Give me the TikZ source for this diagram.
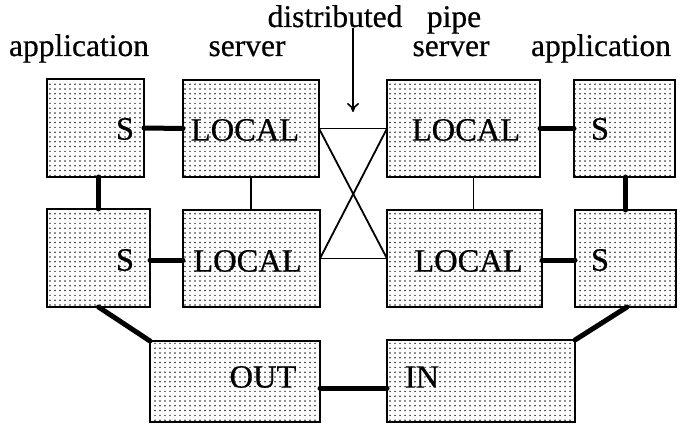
\documentclass[tikz,border=0pt]{standalone}
\usepackage{fontspec}
\setmainfont{Liberation Serif}[FakeBold=0.5]
\usetikzlibrary{patterns,arrows.meta}

% regular screen of small dots used to shade the boxes
\pgfdeclarepatternformonly{screendots}{\pgfqpoint{-1pt}{-1pt}}{\pgfqpoint{1pt}{1pt}}{\pgfqpoint{5pt}{4.8pt}}{%
  \pgfpathcircle{\pgfqpoint{0pt}{0pt}}{0.85pt}\pgfusepath{fill}}

\begin{document}
\begin{tikzpicture}[x=1pt,y=-1pt,
  box/.style={draw=black, line width=1.8pt, pattern=screendots, pattern color=black!85,
              inner sep=0pt, outer sep=0pt},
  txt/.style={font=\fontsize{32.5}{36}\selectfont, inner sep=0pt},
  lbl/.style={font=\fontsize{31.5}{36}\selectfont, inner sep=0pt, anchor=base},
  thick link/.style={line width=5pt, line cap=round},
  thin link/.style={line width=1.8pt}
]
\useasboundingbox (0,0) rectangle (683,425);

% boxes
\node[box, minimum width=97pt,  minimum height=98pt] (appTL) at (95.5,128) {};
\node[box, minimum width=136pt, minimum height=97pt] (locTL) at (251,128.5) {};
\node[box, minimum width=153pt, minimum height=97pt] (locTR) at (463.5,128.5) {};
\node[box, minimum width=101pt, minimum height=97pt] (appTR) at (624.5,128.5) {};
\node[box, minimum width=103pt, minimum height=98pt] (appBL) at (98.5,258) {};
\node[box, minimum width=137pt, minimum height=97pt] (locBL) at (251.5,258.5) {};
\node[box, minimum width=155pt, minimum height=97pt] (locBR) at (464.5,258.5) {};
\node[box, minimum width=101pt, minimum height=97pt] (appBR) at (625.5,258.5) {};
\node[box, minimum width=170pt, minimum height=81pt] (out) at (235,381.5) {};
\node[box, minimum width=188pt, minimum height=82pt] (in) at (481,381) {};

% box texts
\node[txt] (sTL) at (125,129) {S};
\node[txt] (lTL) at (245,130) {LOCAL};
\node[txt] (lTR) at (466,130) {LOCAL};
\node[txt] (sTR) at (600,129) {S};
\node[txt] (sBL) at (125,260) {S};
\node[txt] (lBL) at (247.5,261) {LOCAL};
\node[txt] (lBR) at (468.5,261) {LOCAL};
\node[txt] (sBR) at (600,260) {S};
\node[txt] (tOut) at (263,377) {OUT};
\node[txt] (tIn) at (422,377) {IN};

% headings
\node[lbl] (hApp1) at (79,56) {application};
\node[lbl] (hSrv1) at (247,56) {server};
\node[lbl] (hDist) at (335,27) {distributed};
\node[lbl] (hPipe) at (454,27) {pipe};
\node[lbl] (hSrv2) at (451,56) {server};
\node[lbl] (hApp2) at (601,56) {application};
\coordinate (arrTip) at (353,112);

% arrow pointing at the distributed pipe
\draw[line width=1.6pt, -{To[length=9pt,width=12pt]}] (hDist.south -| arrTip) -- (arrTip);

% heavy links between application and server parts
\draw[thick link] (appTL.east) -- (locTL.west);
\draw[thick link] (locTR.east) -- (appTR.west);
\draw[thick link] ([yshift=-2pt]appBL.east) -- ([yshift=-1.5pt]locBL.west);
\draw[thick link] ([yshift=-1.5pt]locBR.east) -- ([yshift=-1.5pt]appBR.west);
\draw[thick link] (appTL.south -| appBL.north) -- (appBL.north);
\draw[thick link] (appTR.south -| appBR.north) -- (appBR.north);
\draw[thick link] (appBL.south) -- (out.north west);
\draw[thick link] ([xshift=1.5pt]appBR.south) -- (in.north east);
\draw[thick link] ([yshift=-6.5pt]out.east) -- ([yshift=-7pt]in.west);

% thin links inside the servers and the distributed pipe
\draw[thin link] (locTL.south) -- (locTL.south |- locBL.north);
\draw[thin link] ([xshift=10pt]locTR.south) -- ([xshift=10pt]locTR.south |- locBR.north);
\draw[thin link] (locTL.east) -- (locTR.west);
\draw[thin link] (locBL.east) -- (locBR.west);
\draw[thin link] (locTL.east) -- (locBR.west);
\draw[thin link] (locTR.west) -- (locBL.east);
\end{tikzpicture}
\end{document}
